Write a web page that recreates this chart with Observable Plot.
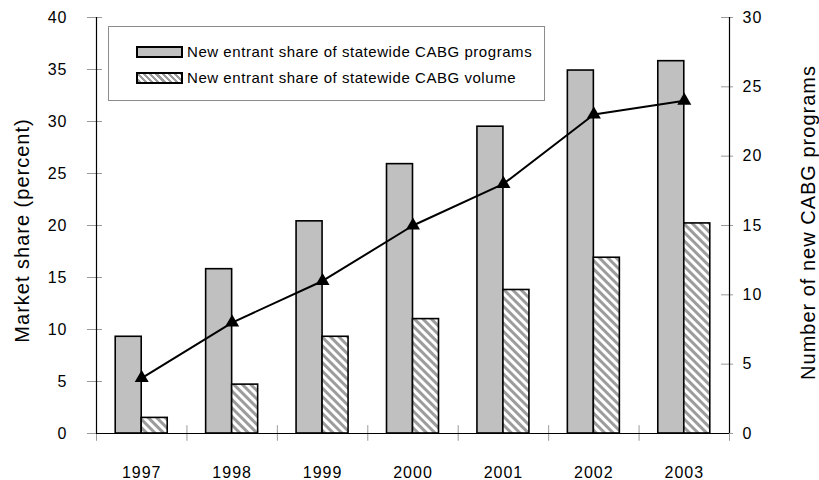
<!DOCTYPE html>
<html>
<head>
<meta charset="utf-8">
<script src="https://cdn.jsdelivr.net/npm/d3@7"></script>
<script src="https://cdn.jsdelivr.net/npm/@observablehq/plot@0.6"></script>
<style>
  html, body { margin: 0; padding: 0; background: #fff; }
  #wrap { position: relative; width: 819px; height: 480px; font-family: "Liberation Sans", Arial, sans-serif; }
  #legend { position: absolute; left: 108px; top: 26px; width: 437px; height: 75px; border: 1px solid #8c8c8c; box-sizing: border-box; background: #fff; }
  .row { position: absolute; left: 27px; display: flex; align-items: center; font-size: 15px; letter-spacing: 0.55px; color: #000; white-space: nowrap; }
  .sw { width: 43px; height: 8px; border: 2px solid #000; margin-right: 4px; }
</style>
</head>
<body>
<div id="wrap"></div>
<script>
const years = ["1997", "1998", "1999", "2000", "2001", "2002", "2003"];
const programsShare = [9.3, 15.8, 20.4, 25.9, 29.5, 34.9, 35.8];
const volumeShare = [1.5, 4.7, 9.3, 11.0, 13.8, 16.9, 20.2];
const newPrograms = [4, 8, 11, 15, 18, 23, 24];
const leftTicks = [0, 5, 10, 15, 20, 25, 30, 35, 40];
const rightTicks = [0, 5, 10, 15, 20, 25, 30];
const seriesNames = ["New entrant share of statewide CABG programs", "New entrant share of statewide CABG volume"];
const yLabelLeft = "Market share (percent)";
const yLabelRight = "Number of new CABG programs";

const leftMax = 40, rightMax = 30;
const toLeft = v => v * leftMax / rightMax;
const barHalf = 0.2875;
const tickGray = "#9a9a9a";

const progRows = years.map((y, i) => ({i, v: programsShare[i]}));
const volRows = years.map((y, i) => ({i, v: volumeShare[i]}));
const lineRows = years.map((y, i) => ({i, n: newPrograms[i]}));
const centers = years.map((y, i) => i + 0.5);
const bounds = d3.range(years.length + 1);

const chart = Plot.plot({
  width: 819,
  height: 480,
  marginLeft: 96,
  marginRight: 90,
  marginTop: 17,
  marginBottom: 47,
  style: {fontFamily: "Liberation Sans, Arial, sans-serif", fontSize: "16px", color: "#000", background: "#fff", letterSpacing: "1px"},
  x: {type: "linear", domain: [0, years.length], axis: null, label: null},
  y: {domain: [0, leftMax], axis: null, label: null},
  marks: [
    () => {
      const ns = "http://www.w3.org/2000/svg";
      const defs = document.createElementNS(ns, "defs");
      defs.innerHTML = `<pattern id="hatch" patternUnits="userSpaceOnUse" width="6" height="6" patternTransform="rotate(-45)">
        <rect x="0" y="0" width="6" height="6" fill="#ffffff"></rect>
        <rect x="0" y="0" width="3" height="6" fill="#9c9c9c"></rect></pattern>`;
      return defs;
    },
    Plot.rectY(progRows, {x1: d => d.i + 0.5 - barHalf, x2: d => d.i + 0.5, y: "v", fill: "#c0c0c0", stroke: "#000", strokeWidth: 1.6}),
    Plot.rectY(volRows, {x1: d => d.i + 0.5, x2: d => d.i + 0.5 + barHalf, y: "v", fill: "url(#hatch)", stroke: "#000", strokeWidth: 1.6}),
    // tick marks
    Plot.ruleY(leftTicks, {x1: -0.1, x2: 0.066, stroke: tickGray, strokeWidth: 1}),
    Plot.ruleY(rightTicks.map(toLeft), {x1: years.length - 0.088, x2: years.length + 0.045, stroke: tickGray, strokeWidth: 1}),
    Plot.ruleX(bounds, {y1: -0.75, y2: 0.75, stroke: tickGray, strokeWidth: 1}),
    // axis lines
    Plot.ruleX([0, years.length], {y1: 0, y2: leftMax, stroke: "#000", strokeWidth: 1.2}),
    Plot.ruleY([0], {x1: 0, x2: years.length, stroke: "#000", strokeWidth: 1.2}),
    // axis labels
    Plot.axisY({ticks: leftTicks, tickSize: 0, tickPadding: 29, fontSize: 16, label: null}),
    Plot.axisY({anchor: "right", ticks: rightTicks.map(toLeft), tickFormat: d => Math.round(d * rightMax / leftMax), tickSize: 0, tickPadding: 13, fontSize: 16, label: null}),
    Plot.axisX({ticks: centers, tickFormat: d => years[Math.floor(d)], tickSize: 0, tickPadding: 33, fontSize: 16, label: null}),
    // line
    Plot.line(lineRows, {x: d => d.i + 0.5, y: d => toLeft(d.n), stroke: "#000", strokeWidth: 2}),
    Plot.dot(lineRows, {x: d => d.i + 0.5, y: d => toLeft(d.n), symbol: "triangle", r: 5.2, fill: "#000", stroke: "none"}),
    // axis titles
    Plot.text([yLabelLeft], {frameAnchor: "left", text: d => d, rotate: -90, textAnchor: "middle", lineAnchor: "middle", dx: -74, dy: 5, fontSize: 20, fill: "#000"}),
    Plot.text([yLabelRight], {frameAnchor: "right", text: d => d, rotate: -90, textAnchor: "middle", lineAnchor: "middle", dx: 79, dy: -3, fontSize: 20, fill: "#000", style: "letter-spacing:1.6px"})
  ]
});

const wrap = document.getElementById("wrap");
wrap.appendChild(chart);

const legend = document.createElement("div");
legend.id = "legend";
const swatchStyles = ["background:#c0c0c0;", "background:repeating-linear-gradient(45deg,#9c9c9c 0 2.2px,#fff 2.2px 4.4px);"];
seriesNames.forEach((name, k) => {
  const row = document.createElement("div");
  row.className = "row";
  row.style.top = (16 + k * 26) + "px";
  const sw = document.createElement("div");
  sw.className = "sw";
  sw.setAttribute("style", swatchStyles[k]);
  const t = document.createElement("span");
  t.textContent = name;
  row.appendChild(sw);
  row.appendChild(t);
  legend.appendChild(row);
});
wrap.appendChild(legend);
</script>
</body>
</html>
